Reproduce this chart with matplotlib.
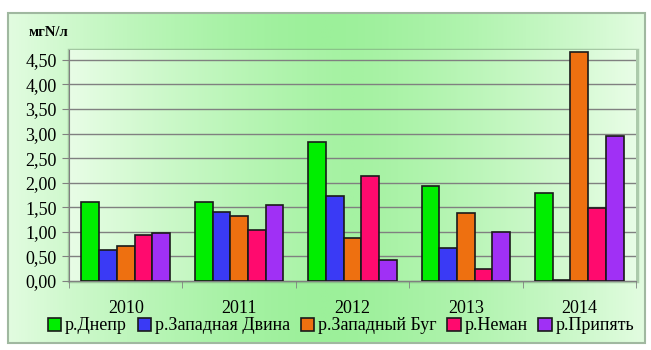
import matplotlib
matplotlib.use("Agg")
import matplotlib.pyplot as plt
import numpy as np
from matplotlib.patches import Rectangle
from matplotlib.colors import LinearSegmentedColormap

years = ["2010", "2011", "2012", "2013", "2014"]
series_names = ["р.Днепр", "р.Западная Двина", "р.Западный Буг", "р.Неман", "р.Припять"]
dnepr = [1.61, 1.61, 2.83, 1.93, 1.79]
zap_dvina = [0.64, 1.40, 1.73, 0.67, 0.02]
zap_bug = [0.71, 1.33, 0.87, 1.38, 4.65]
neman = [0.94, 1.04, 2.14, 0.25, 1.48]
pripyat = [0.97, 1.55, 0.43, 0.99, 2.95]
colors = ["#00EE00", "#3A3AF5", "#EE7010", "#FF0A6E", "#A030F5"]
yticks = [0, 0.5, 1, 1.5, 2, 2.5, 3, 3.5, 4, 4.5]

data = [dnepr, zap_dvina, zap_bug, neman, pripyat]

plt.rcParams['font.family'] = ['Liberation Serif', 'DejaVu Serif']

fig = plt.figure(figsize=(6.51, 3.5), dpi=100)

# background gradient on figure frame
bg = fig.add_axes([0, 0, 1, 1], zorder=-10)
bg.set_xlim(0, 651); bg.set_ylim(350, 0); bg.axis('off')
xx = np.linspace(-1, 1, 300)
grad = 1 - np.abs(xx) ** 1.5
cmap = LinearSegmentedColormap.from_list("g", ["#E2FCE0", "#9CF09A"])
bg.imshow(np.tile(grad, (50, 1)), cmap=cmap, extent=[8, 645, 343, 13], aspect='auto', zorder=0)
bg.add_patch(Rectangle((8, 13), 637, 330, fill=False, edgecolor="#A0B8A0", lw=1.5, zorder=2))
# inner shadow frame for plot area
bg.add_patch(Rectangle((69, 50), 568, 231, facecolor="none", edgecolor="#7a9a7a", lw=2.5, alpha=0.5, zorder=3))
bg.text(29, 33, "мгN/л", fontsize=10.5, fontweight='bold', va='center', ha='left')

ax = fig.add_axes([69/651, 1-281/350, 567/651, 231/350])
ax.patch.set_alpha(0)
cmap2 = LinearSegmentedColormap.from_list("g2", ["#E8FDE6", "#A5F2A2"])
ax.imshow(np.tile(1 - np.abs(np.linspace(-1, 1, 300)) ** 1.3, (50, 1)), cmap=cmap2,
          extent=[-0.5, 4.5, 0, 4.70], aspect='auto', zorder=0)

x = np.arange(len(years))
bw = 0.156
for i, (vals, c, name) in enumerate(zip(data, colors, series_names)):
    pos = x + (i - 2) * bw
    ax.bar(pos, vals, width=bw, color=c, edgecolor="#1a1a1a", linewidth=1.2, label=name, zorder=3)

ax.set_xlim(-0.5, 4.5)
ax.set_ylim(0, 4.70)
ax.set_yticks(yticks)
ax.set_yticklabels([f"{v:.2f}".replace('.', ',') for v in yticks], fontsize=13)
ax.set_xticks(x)
ax.set_xticklabels(years, fontsize=13)
ax.tick_params(axis='x', length=0, pad=14)
ax.tick_params(axis='y', length=5, color="#808080", pad=4)
ax.set_xticks(np.arange(-0.5, 5, 1), minor=True)
ax.tick_params(axis='x', which='minor', length=5, color="#808080")
ax.grid(axis='y', color="#808080", lw=1, zorder=1)
for s in ['top', 'right']:
    ax.spines[s].set_visible(False)
ax.spines['left'].set_color("#808080")
ax.spines['bottom'].set_color("#808080")

leg = fig.legend(loc='center', bbox_to_anchor=(341/651, 1-326/350), ncol=5, frameon=False,
                 fontsize=13, handlelength=0.75, handleheight=0.75, handletextpad=0.2,
                 columnspacing=0.6)
for h in leg.legend_handles:
    h.set_edgecolor("#1a1a1a")
    h.set_linewidth(1.2)

fig.savefig("out.png", dpi=100)
